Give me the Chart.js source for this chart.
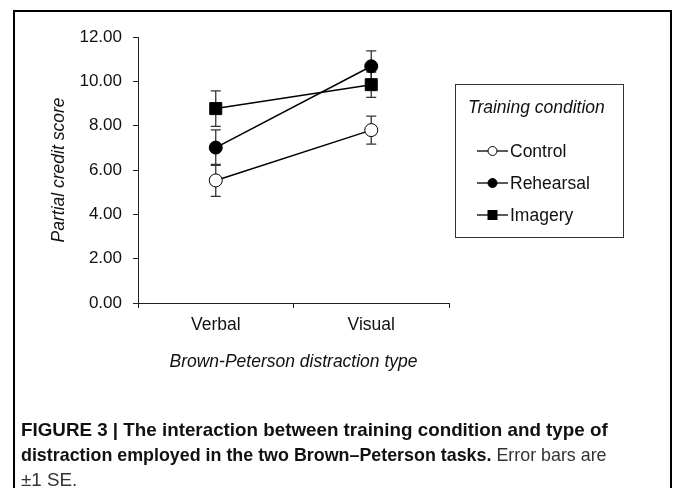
<!DOCTYPE html>
<html>
<head>
<meta charset="utf-8">
<script src="https://cdn.jsdelivr.net/npm/chart.js@4.4.1/dist/chart.umd.min.js"></script>
<style>
  html, body { margin: 0; padding: 0; background: #fff; }
  #wrap { position: relative; width: 673px; height: 488px; overflow: hidden; background: #fff; }
  #c { position: absolute; left: 0; top: 0; }
  #frame { position: absolute; left: 13px; top: 10px; width: 659px; height: 520px; box-sizing: border-box;
           border: 2px solid #000; pointer-events: none; }
  .cap { position: absolute; left: 21px; font-family: "Liberation Sans", Arial, sans-serif;
         font-size: 18.5px; color: #111; white-space: nowrap; line-height: 22px;
         display: inline-block; transform-origin: 0 50%; }
  b { font-weight: bold; }
  .reg { color: #333; }
</style>
</head>
<body>
<div id="wrap">
  <canvas id="c" width="673" height="488"></canvas>
  <div id="frame"></div>
  <div class="cap" id="l1" style="top:419px;"><b>FIGURE 3 | The interaction between training condition and type of</b></div>
  <div class="cap" id="l2" style="top:444px;"><b>distraction employed in the two Brown–Peterson tasks.</b> <span class="reg">Error bars are</span></div>
  <div class="cap" id="l3" style="top:469px;"><span class="reg">±1 SE.</span></div>
</div>
<script>
const categories = ["Verbal", "Visual"];
const seriesNames = ["Control", "Rehearsal", "Imagery"];
const controlValues = [5.53, 7.80];
const rehearsalValues = [7.01, 10.68];
const imageryValues = [8.77, 9.85];
const controlSE = [0.72, 0.63];
const rehearsalSE = [0.80, 0.69];
const imagerySE = [0.80, 0.57];
const yTicks = [0, 2, 4, 6, 8, 10, 12];

// fit caption lines to the reference's condensed width
(function () {
  const l1 = document.getElementById("l1"), l2 = document.getElementById("l2"), l3 = document.getElementById("l3");
  const s1 = 587 / l1.offsetWidth, s2 = 586 / l2.offsetWidth;
  l1.style.transform = "scaleX(" + s1 + ")";
  l2.style.transform = "scaleX(" + s2 + ")";
  l3.style.transform = "scaleX(" + s1 + ")";
})();

const FONT = "'Liberation Sans', Arial, sans-serif";
const INK = "#111";

const errorBarPlugin = {
  id: "errorBars",
  beforeDatasetsDraw(chart) {
    const ctx = chart.ctx;
    const y = chart.scales.y;
    ctx.save();
    ctx.strokeStyle = "#333";
    ctx.lineWidth = 1.3;
    chart.data.datasets.forEach((ds, di) => {
      const meta = chart.getDatasetMeta(di);
      meta.data.forEach((pt, i) => {
        const v = ds.data[i], e = ds.se[i];
        const yTop = y.getPixelForValue(v + e);
        const yBot = y.getPixelForValue(v - e);
        const x = pt.x;
        ctx.beginPath();
        ctx.moveTo(x, yTop); ctx.lineTo(x, yBot);
        ctx.moveTo(x - 5, yTop); ctx.lineTo(x + 5, yTop);
        ctx.moveTo(x - 5, yBot); ctx.lineTo(x + 5, yBot);
        ctx.stroke();
      });
    });
    ctx.restore();
  }
};

const boxLegendPlugin = {
  id: "boxLegend",
  afterDraw(chart) {
    const ctx = chart.ctx;
    const a = chart.chartArea;
    const bx = a.right + 6, by = a.top + 47, bw = 168, bh = 153;
    ctx.save();
    ctx.strokeStyle = "#333";
    ctx.lineWidth = 1;
    ctx.strokeRect(bx + 0.5, by + 0.5, bw, bh);
    ctx.fillStyle = INK;
    ctx.textBaseline = "middle";
    ctx.textAlign = "left";
    ctx.font = "italic 17.5px " + FONT;
    ctx.fillText("Training condition", bx + 13, by + 24);
    ctx.font = "17.5px " + FONT;
    const rows = [by + 67, by + 99, by + 131];
    chart.data.datasets.forEach((ds, i) => {
      const yy = rows[i];
      const x0 = bx + 22, x1 = bx + 53, xm = (x0 + x1) / 2;
      ctx.strokeStyle = "#000";
      ctx.lineWidth = 1.3;
      ctx.beginPath(); ctx.moveTo(x0, yy); ctx.lineTo(x1, yy); ctx.stroke();
      ctx.fillStyle = ds.pointBackgroundColor;
      ctx.strokeStyle = "#000";
      ctx.lineWidth = 1;
      if (ds.pointStyle === "rect") {
        ctx.fillRect(xm - 4.5, yy - 4.5, 9, 9);
        ctx.strokeRect(xm - 4.5, yy - 4.5, 9, 9);
      } else {
        ctx.beginPath(); ctx.arc(xm, yy, 4.5, 0, Math.PI * 2); ctx.fill(); ctx.stroke();
      }
      ctx.fillStyle = INK;
      ctx.fillText(ds.label, x1 + 2, yy + 1);
    });
    ctx.restore();
  }
};

function mk(label, data, se, style, fill, r) {
  return {
    label, data, se,
    borderColor: "#000", borderWidth: 1.5,
    pointStyle: style, pointRadius: r, pointHoverRadius: r,
    pointBackgroundColor: fill, pointBorderColor: "#000", pointBorderWidth: 1,
    tension: 0, fill: false
  };
}

new Chart(document.getElementById("c"), {
  type: "line",
  data: {
    labels: categories,
    datasets: [
      mk(seriesNames[0], controlValues, controlSE, "circle", "#fff", 6.5),
      mk(seriesNames[1], rehearsalValues, rehearsalSE, "circle", "#000", 6.5),
      mk(seriesNames[2], imageryValues, imagerySE, "rect", "#000", 8.5)
    ]
  },
  options: {
    responsive: false,
    animation: false,
    devicePixelRatio: 1,
    layout: { padding: { left: 0, top: 37, right: 224, bottom: 0 } },
    plugins: { legend: { display: false }, tooltip: { enabled: false } },
    scales: {
      x: {
        type: "category",
        offset: true,
        afterFit(s) { s.height = 185; },
        grid: { display: true, offset: true, drawOnChartArea: false, drawTicks: true, tickLength: 5, color: "#222", lineWidth: 1 },
        border: { display: true, color: "#222", width: 1 },
        ticks: { color: INK, font: { family: FONT, size: 17.5 }, padding: 7 },
        title: { display: true, text: "Brown-Peterson distraction type", color: INK,
                 font: { family: FONT, size: 17.5, style: "italic" }, padding: { top: 0, bottom: 115 } }
      },
      y: {
        min: 0, max: 12,
        afterFit(s) { s.width = 138; },
        afterBuildTicks(s) { s.ticks = yTicks.map(v => ({ value: v })); },
        grid: { display: true, drawOnChartArea: false, drawTicks: true, tickLength: 5, color: "#222", lineWidth: 1 },
        border: { display: true, color: "#222", width: 1 },
        ticks: { color: INK, font: { family: FONT, size: 17 }, padding: 11,
                 callback: v => Number(v).toFixed(2) },
        title: { display: true, text: "Partial credit score", color: INK,
                 font: { family: FONT, size: 17.5, style: "italic" }, padding: { top: 49, bottom: 0 } }
      }
    }
  },
  plugins: [errorBarPlugin, boxLegendPlugin]
});
</script>
</body>
</html>
